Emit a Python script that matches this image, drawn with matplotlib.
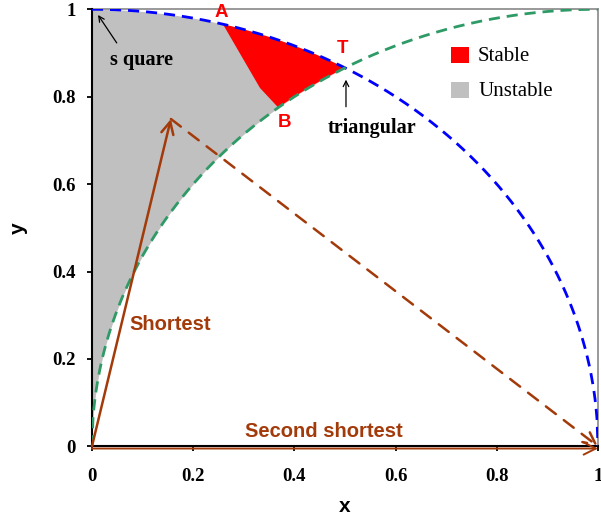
import numpy as np
import matplotlib
matplotlib.use("Agg")
import matplotlib.pyplot as plt
from matplotlib.patches import Polygon

# Key points
A = (0.2588, 0.9659)
T = (0.5, 0.8660)
B = (0.368, 0.7753)
kink = (0.332, 0.820)
apex = (0.156, 0.749)

xticks = [0, 0.2, 0.4, 0.6, 0.8, 1]
xtick_labels = ["0", "0.2", "0.4", "0.6", "0.8", "1"]
yticks = [0, 0.2, 0.4, 0.6, 0.8, 1]
ytick_labels = ["0", "0.2", "0.4", "0.6", "0.8", "1"]

BROWN = "#A33A0A"
BLUE = "#0000FF"
GREEN = "#2E9A66"
RED = "#FF0000"
GRAY = "#C0C0C0"

fig = plt.figure(figsize=(6.01, 5.16), dpi=100)
ax = fig.add_axes([0.153, 0.135, 0.842, 0.847])
ax.set_xlim(0, 1)
ax.set_ylim(0, 1)

# Unstable region (gray) between the two circles for 0<=x<=0.5
xs = np.linspace(0, 0.5, 300)
upper = np.sqrt(1 - xs**2)
lower = np.sqrt(np.clip(1 - (xs - 1)**2, 0, None))
ax.fill_between(xs, lower, upper, color=GRAY, lw=0, zorder=1)

# Stable region (red)
xg = np.linspace(B[0], T[0], 100)
yg = np.sqrt(1 - (xg - 1)**2)
xb = np.linspace(T[0], A[0], 100)
yb = np.sqrt(1 - xb**2)
poly = [A, kink, B] + list(zip(xg, yg)) + list(zip(xb, yb))
ax.add_patch(Polygon(poly, closed=True, color=RED, lw=0, zorder=2))

# Circles
x1 = np.linspace(0, 1, 500)
ax.plot(x1, np.sqrt(np.clip(1 - x1**2, 0, None)), color=BLUE, ls=(0, (4, 2.5)), lw=2, zorder=4)
ax.plot(x1, np.sqrt(np.clip(1 - (x1 - 1)**2, 0, None)), color=GREEN, ls=(0, (4, 2.5)), lw=2, zorder=4)

# Vectors
ap = dict(arrowstyle="->", color=BROWN, lw=1.8, mutation_scale=22, shrinkA=0, shrinkB=0)
ax.annotate("", xy=apex, xytext=(0, 0), arrowprops=ap, zorder=5)
ax.annotate("", xy=(1.0, -0.005), xytext=(0, -0.005),
            arrowprops=dict(ap, lw=1.4), zorder=5, annotation_clip=False)
ax.annotate("", xy=(1.0, 0.0), xytext=apex,
            arrowprops=dict(ap, ls=(0, (5, 4)), lw=1.8), zorder=5)

# Labels
ax.text(0.154, 0.278, "Shortest", color=BROWN, fontsize=14.5, fontweight="bold",
        family="Liberation Sans", ha="center", va="center")
ax.text(0.459, 0.033, "Second shortest", color=BROWN, fontsize=14.5, fontweight="bold",
        family="Liberation Sans", ha="center", va="center")
ax.text(0.256, 0.992, "A", color=RED, fontsize=13.5, fontweight="bold",
        family="Liberation Sans", ha="center", va="center")
ax.text(0.496, 0.910, "T", color=RED, fontsize=13.5, fontweight="bold",
        family="Liberation Sans", ha="center", va="center")
ax.text(0.381, 0.740, "B", color=RED, fontsize=13.5, fontweight="bold",
        family="Liberation Sans", ha="center", va="center")

ax.text(0.097, 0.884, "s quare", fontsize=14.5, fontweight="bold",
        family="Liberation Serif", ha="center", va="center")
ax.annotate("", xy=(0.012, 0.987), xytext=(0.049, 0.923),
            arrowprops=dict(arrowstyle="->", color="black", lw=0.9,
                            shrinkA=0, shrinkB=0))
ax.text(0.553, 0.729, "triangular", fontsize=14.5, fontweight="bold",
        family="Liberation Serif", ha="center", va="center", zorder=6)
ax.annotate("", xy=(0.502, 0.839), xytext=(0.502, 0.777),
            arrowprops=dict(arrowstyle="->", color="black", lw=0.9,
                            shrinkA=0, shrinkB=0))

# Legend
ax.add_patch(plt.Rectangle((0.709, 0.878), 0.036, 0.036, color=RED, lw=0, zorder=6))
ax.add_patch(plt.Rectangle((0.709, 0.797), 0.036, 0.036, color=GRAY, lw=0, zorder=6))
ax.text(0.763, 0.893, "Stable", fontsize=15, family="Liberation Serif", va="center", ha="left")
ax.text(0.763, 0.813, "Unstable", fontsize=15, family="Liberation Serif", va="center", ha="left")

# Axes styling
for s in ["top", "right"]:
    ax.spines[s].set_color("#888888")
    ax.spines[s].set_linewidth(1.2)
for s in ["left", "bottom"]:
    ax.spines[s].set_color("black")
    ax.spines[s].set_linewidth(1.5)
    ax.spines[s].set_zorder(3)

ax.set_xticks(xticks)
ax.set_xticklabels(xtick_labels)
ax.set_yticks(yticks)
ax.set_yticklabels(ytick_labels)
ax.tick_params(direction="out", length=3.5, width=1.3, labelsize=13.5)
ax.tick_params(axis="x", pad=12)
ax.tick_params(axis="y", pad=8)
for lab in ax.get_xticklabels() + ax.get_yticklabels():
    lab.set_family("Liberation Serif")
    lab.set_fontweight("bold")

ax.set_xlabel("x", fontsize=15, fontweight="bold", family="Liberation Sans", labelpad=9)
ax.set_ylabel("y", fontsize=15, fontweight="bold", family="Liberation Sans", labelpad=18)

fig.savefig("out.png", dpi=100)
